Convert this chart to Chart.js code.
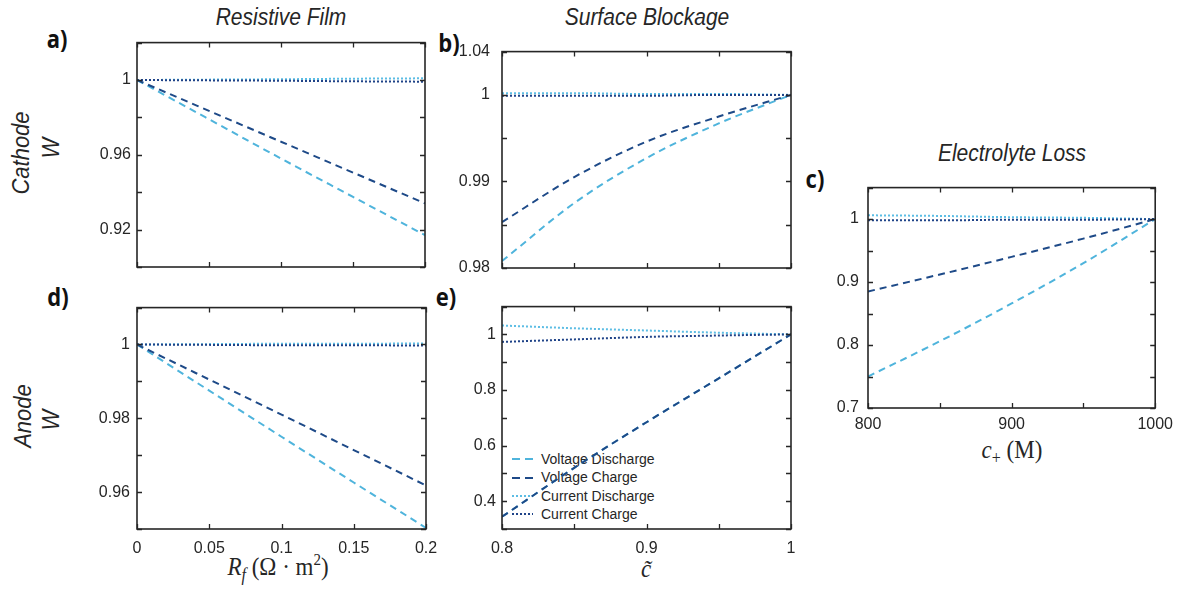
<!DOCTYPE html>
<html>
<head>
<meta charset="utf-8">
<script src="https://cdn.jsdelivr.net/npm/chart.js@4.4.0/dist/chart.umd.min.js"></script>
<style>
  html, body { margin: 0; padding: 0; background: #fff; }
  #page { position: relative; width: 1180px; height: 593px; overflow: hidden;
          font-family: "Liberation Sans", Arial, sans-serif; color: #262626; }
  #page canvas { position: absolute; }
  .lbl { position: absolute; white-space: nowrap; transform: translate(-50%, -50%) scaleY(1.12); line-height: 1; }
  .title { font-style: italic; font-size: 21px; }
  .letter { font-family: "Open Sans", sans-serif; font-weight: 700; font-size: 22px; color: #111; }
  .row { font-style: italic; font-size: 22px; transform: translate(-50%, -50%) rotate(-90deg) scaleY(1.05); }
  .math { font-family: "Liberation Serif", serif; font-size: 23px; }
  .math sub { font-size: 16px; vertical-align: -5px; }
  .math sup { font-size: 15px; vertical-align: 9px; }
  #legend { position: absolute; left: 510px; top: 450px; font-size: 14px; line-height: 18.4px; }
  #legend div { display: flex; align-items: center; height: 18.4px; }
  #legend svg { margin-right: 7px; }
</style>
</head>
<body>
<div id="page">
  <div class="lbl title" style="left:281px; top:17px;">Resistive Film</div>
  <div class="lbl title" style="left:647px; top:17px;">Surface Blockage</div>
  <div class="lbl title" style="left:1012px; top:153px;">Electrolyte Loss</div>

  <div class="lbl letter" style="left:57px; top:38px;">a)</div>
  <div class="lbl letter" style="left:449px; top:42px;">b)</div>
  <div class="lbl letter" style="left:815px; top:178px;">c)</div>
  <div class="lbl letter" style="left:58px; top:296px;">d)</div>
  <div class="lbl letter" style="left:446px; top:296px;">e)</div>

  <div class="lbl row" style="left:22px; top:153px;">Cathode</div>
  <div class="lbl row" style="left:52px; top:148px;">W</div>
  <div class="lbl row" style="left:24px; top:416px;">Anode</div>
  <div class="lbl row" style="left:52px; top:420px;">W</div>

  <div class="lbl math" style="left:278px; top:568px;"><i>R</i><sub><i>f</i></sub> (Ω · m<sup>2</sup>)</div>
  <div class="lbl math" style="left:646px; top:569px;"><i>c̃</i></div>
  <div class="lbl math" style="left:1012px; top:452px;"><i>c</i><sub>+</sub> (M)</div>

  <div id="legend"></div>
</div>
<script>
// x values
const rfX = [0, 0.05, 0.1, 0.15, 0.2];
const cTildeX = [0.8, 0.85, 0.9, 0.95, 1];
const cPlusX = [800, 850, 900, 950, 1000];

// a) cathode, resistive film
const aVoltDis = [1, 0.979, 0.958, 0.9375, 0.917];
const aVoltChg = [1, 0.9835, 0.967, 0.9505, 0.934];
const aCurDis = [1, 1.0002, 1.0004, 1.0007, 1.0009];
const aCurChg = [1, 0.9998, 0.9996, 0.9993, 0.9991];

// b) cathode, surface blockage
const bVoltDis = [0.9808, 0.9875, 0.9927, 0.9967, 1.0];
const bVoltChg = [0.9853, 0.9905, 0.9946, 0.9975, 1.0];
const bCurDis = [1.0002, 1.0002, 1.0001, 1.0001, 1.0];
const bCurChg = [0.9999, 0.9999, 0.9999, 1.0, 1.0];

// c) electrolyte loss
const cVoltDis = [0.75, 0.806, 0.866, 0.93, 1.0];
const cVoltChg = [0.885, 0.912, 0.94, 0.969, 1.0];
const cCurDis = [1.006, 1.005, 1.003, 1.002, 1.0];
const cCurChg = [0.998, 0.998, 0.999, 0.999, 1.0];

// d) anode, resistive film
const dVoltDis = [1, 0.9875, 0.975, 0.9626, 0.9503];
const dVoltChg = [1, 0.9905, 0.981, 0.9714, 0.9618];
const dCurDis = [1, 1.0001, 1.0002, 1.0002, 1.0003];
const dCurChg = [1, 0.9999, 0.9998, 0.9998, 0.9997];

// e) anode, surface blockage
const eVoltDis = [0.344, 0.52, 0.684, 0.842, 1.0];
const eVoltChg = [0.344, 0.52, 0.684, 0.842, 1.0];
const eCurDis = [1.032, 1.022, 1.014, 1.006, 1.0];
const eCurChg = [0.973, 0.982, 0.991, 0.996, 1.0];

// tick labels (value -> shown text)
const aYTickVals = [0.92, 0.96, 1];       const aYTickText = ['0.92', '0.96', '1'];
const bYTickVals = [0.98, 0.99, 1, 1.005]; const bYTickText = ['0.98', '0.99', '1', '1.04'];
const cYTickVals = [0.7, 0.8, 0.9, 1];     const cYTickText = ['0.7', '0.8', '0.9', '1'];
const dYTickVals = [0.96, 0.98, 1];        const dYTickText = ['0.96', '0.98', '1'];
const eYTickVals = [0.4, 0.6, 0.8, 1];     const eYTickText = ['0.4', '0.6', '0.8', '1'];
const rfTickVals = [0, 0.05, 0.1, 0.15, 0.2]; const rfTickText = ['0', '0.05', '0.1', '0.15', '0.2'];
const cTildeTickVals = [0.8, 0.9, 1];      const cTildeTickText = ['0.8', '0.9', '1'];
const cPlusTickVals = [800, 900, 1000];    const cPlusTickText = ['800', '900', '1000'];

const seriesNames = ['Voltage Discharge', 'Voltage Charge', 'Current Discharge', 'Current Charge'];
const seriesColors = ['#4fb4dc', '#1e4a88', '#5cbde4', '#1f4388'];
const seriesDash = [[7, 5], [7, 5], [2, 2], [2, 2]];
const seriesOrder = [1, 0, 3, 2];

const AXIS = '#262626';
const PAD_L = 70, PAD_T = 12, PAD_R = 24, PAD_B = 45;

// box around the axes with matlab-style inward ticks
const boxTicks = {
  id: 'boxTicks',
  afterDatasetsDraw(chart) {
    const { ctx, chartArea: a } = chart;
    const x = chart.scales.x, y = chart.scales.y;
    ctx.save();
    ctx.strokeStyle = AXIS;
    ctx.lineWidth = 1.3;
    ctx.beginPath();
    x.ticks.forEach((t, i) => {
      const px = Math.round(x.getPixelForTick(i)) + 0.5;
      ctx.moveTo(px, a.bottom); ctx.lineTo(px, a.bottom - 5);
      ctx.moveTo(px, a.top); ctx.lineTo(px, a.top + 5);
    });
    y.ticks.forEach((t, i) => {
      const py = Math.round(y.getPixelForTick(i)) + 0.5;
      ctx.moveTo(a.left, py); ctx.lineTo(a.left + 5, py);
      ctx.moveTo(a.right, py); ctx.lineTo(a.right - 5, py);
    });
    ctx.stroke();
    ctx.lineWidth = 1.6;
    ctx.strokeRect(a.left, a.top, a.right - a.left, a.bottom - a.top);
    ctx.restore();
  }
};

function labelFor(vals, text) {
  return v => {
    const i = vals.findIndex(t => Math.abs(t - v) < 1e-7);
    return i < 0 ? '' : text[i];
  };
}

function makePanel(rect, xAxis, yAxis, xs, ys) {
  const [L, T, R, B] = rect;
  const canvas = document.createElement('canvas');
  canvas.width = R - L + PAD_L + PAD_R;
  canvas.height = B - T + PAD_T + PAD_B;
  canvas.style.left = (L - PAD_L) + 'px';
  canvas.style.top = (T - PAD_T) + 'px';
  document.getElementById('page').appendChild(canvas);

  const datasets = ys.map((vals, k) => ({
    label: seriesNames[k],
    data: xs.map((x, i) => ({ x, y: vals[i] })),
    borderColor: seriesColors[k],
    borderDash: seriesDash[k],
    borderWidth: 2,
    pointRadius: 0,
    fill: false,
    cubicInterpolationMode: 'monotone',
    order: seriesOrder[k]
  }));

  const tickFont = { family: '"Liberation Sans", Arial, sans-serif', size: 16 };
  new Chart(canvas, {
    type: 'line',
    data: { datasets },
    options: {
      responsive: false,
      animation: false,
      layout: { padding: { left: 0, top: PAD_T, right: PAD_R, bottom: 0 } },
      plugins: { legend: { display: false }, tooltip: { enabled: false } },
      scales: {
        x: {
          type: 'linear', min: xAxis.min, max: xAxis.max,
          grid: { display: false, drawTicks: false },
          border: { display: false },
          afterFit(s) { s.height = PAD_B; },
          ticks: {
            stepSize: xAxis.step, autoSkip: false, maxRotation: 0,
            color: AXIS, font: tickFont, padding: xAxis.pad,
            callback: labelFor(xAxis.vals, xAxis.text)
          }
        },
        y: {
          type: 'linear', min: yAxis.min, max: yAxis.max,
          grid: { display: false, drawTicks: false },
          border: { display: false },
          afterFit(s) { s.width = PAD_L; },
          ticks: {
            stepSize: yAxis.step, autoSkip: false,
            color: AXIS, font: tickFont, padding: yAxis.pad,
            callback: labelFor(yAxis.vals, yAxis.text)
          }
        }
      }
    },
    plugins: [boxTicks]
  });
}

makePanel([137, 39, 425, 267],
  { min: 0, max: 0.2, step: 0.05, vals: [], text: [], pad: 10 },
  { min: 0.9, max: 1.02, step: 0.02, vals: aYTickVals, text: aYTickText, pad: 6 },
  rfX, [aVoltDis, aVoltChg, aCurDis, aCurChg]);

makePanel([502, 42, 791, 268],
  { min: 0.8, max: 1, step: 0.05, vals: [], text: [], pad: 10 },
  { min: 0.98, max: 1.005, step: 0.005, vals: bYTickVals, text: bYTickText, pad: 12 },
  cTildeX, [bVoltDis, bVoltChg, bCurDis, bCurChg]);

makePanel([868, 181, 1156, 408],
  { min: 800, max: 1000, step: 50, vals: cPlusTickVals, text: cPlusTickText, pad: 7 },
  { min: 0.7, max: 1.05, step: 0.05, vals: cYTickVals, text: cYTickText, pad: 9 },
  cPlusX, [cVoltDis, cVoltChg, cCurDis, cCurChg]);

makePanel([137, 303, 426, 529],
  { min: 0, max: 0.2, step: 0.05, vals: rfTickVals, text: rfTickText, pad: 10 },
  { min: 0.95, max: 1.01, step: 0.01, vals: dYTickVals, text: dYTickText, pad: 7 },
  rfX, [dVoltDis, dVoltChg, dCurDis, dCurChg]);

makePanel([502, 303, 791, 529],
  { min: 0.8, max: 1, step: 0.05, vals: cTildeTickVals, text: cTildeTickText, pad: 10 },
  { min: 0.3, max: 1.1, step: 0.1, vals: eYTickVals, text: eYTickText, pad: 6 },
  cTildeX, [eVoltDis, eVoltChg, eCurDis, eCurChg]);

// legend inside panel e
const legend = document.getElementById('legend');
seriesNames.forEach((name, k) => {
  const row = document.createElement('div');
  row.innerHTML =
    '<svg width="24" height="6"><line x1="2" y1="3" x2="23" y2="3" stroke="' + seriesColors[k] +
    '" stroke-width="2" stroke-dasharray="' + (k < 2 ? '8,5' : '2,2') + '"/></svg><span>' + name + '</span>';
  legend.appendChild(row);
});
</script>
</body>
</html>
